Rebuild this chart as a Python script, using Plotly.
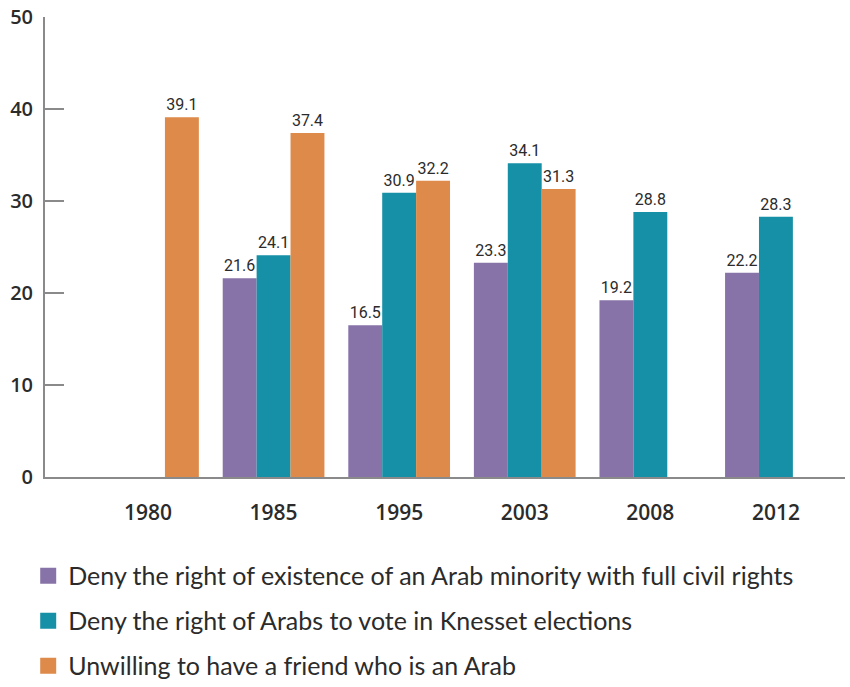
import plotly.graph_objects as go

years = ["1980", "1985", "1995", "2003", "2008", "2012"]
deny_existence = [None, 21.6, 16.5, 23.3, 19.2, 22.2]
deny_vote = [None, 24.1, 30.9, 34.1, 28.8, 28.3]
unwilling_friend = [39.1, 37.4, 32.2, 31.3, None, None]

series = [
    ("Deny the right of existence of an Arab minority with full civil rights", deny_existence, "#8773A8"),
    ("Deny the right of Arabs to vote in Knesset elections", deny_vote, "#1690A6"),
    ("Unwilling to have a friend who is an Arab", unwilling_friend, "#DE8A4A"),
]

fig = go.Figure()
for i, (name, vals, color) in enumerate(series):
    fig.add_trace(go.Bar(
        x=years, y=vals, name=name, marker_color=color, marker_line_width=0,
        text=[f"{v:.1f}" if v is not None else "" for v in vals],
        textposition="outside", cliponaxis=False,
        textfont=dict(family="Roboto", size=16, color="#2b2b2b"),
        showlegend=False,
    ))
for i, (name, vals, color) in enumerate(series):
    # legend-only entries with larger square swatches
    fig.add_trace(go.Scatter(
        x=[None], y=[None], mode="markers", name=name,
        marker=dict(symbol="square", size=18, color=color),
        legendgroup=f"g{i}", showlegend=True,
    ))

fig.update_layout(
    width=850, height=687,
    margin=dict(l=45, r=5, t=17, b=210, autoexpand=False),
    plot_bgcolor="white", paper_bgcolor="white",
    barmode="group", bargap=0.19, bargroupgap=0,
    showlegend=True,
    legend=dict(
        orientation="v", x=-0.021, xanchor="left", y=-0.165, yanchor="top",
        font=dict(family="Lato", size=25, color="#2b2b2b"),
        traceorder="grouped", tracegroupgap=9.5, itemwidth=30,
        bgcolor="rgba(0,0,0,0)",
    ),
    xaxis=dict(
        type="category", range=[-0.82, 5.55], automargin=False,
        showline=True, linecolor="#8a8a8a", linewidth=2,
        ticks="", ticklabelstandoff=16,
        tickfont=dict(family="Open Sans", size=21, color="#2b2b2b", weight=600),
        showgrid=False, zeroline=False,
    ),
    yaxis=dict(
        range=[0, 50], tickvals=[0, 10, 20, 30, 40, 50], automargin=False,
        showline=True, linecolor="#8a8a8a", linewidth=2,
        ticks="inside", ticklen=19, tickwidth=2, tickcolor="#8a8a8a",
        ticklabelstandoff=6,
        tickfont=dict(family="Open Sans", size=20, color="#2b2b2b", weight=600),
        showgrid=False, zeroline=False,
    ),
)

fig.write_html("out.html", config={"displayModeBar": False},
               post_script="document.body.style.margin='0';")
